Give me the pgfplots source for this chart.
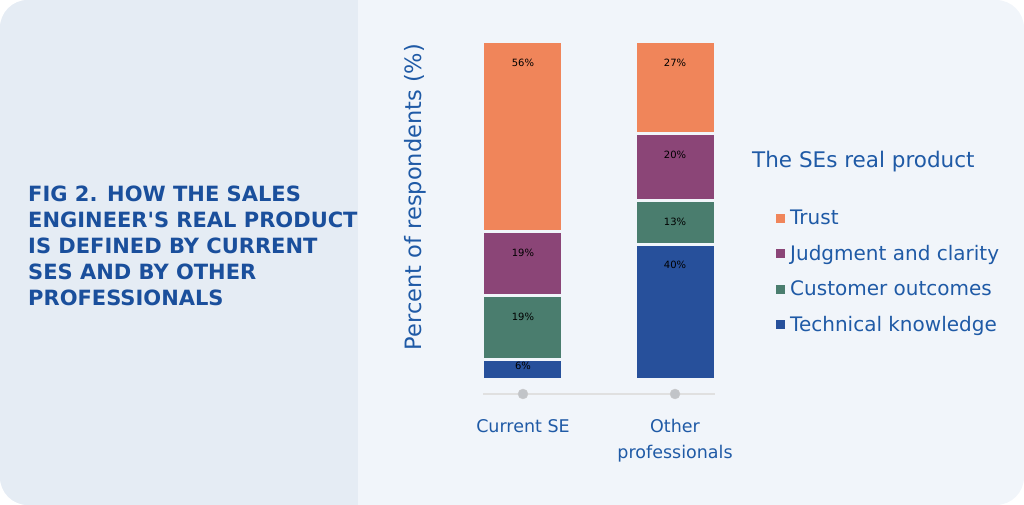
\documentclass[border=0pt]{standalone}
\usepackage{pgfplots}
\pgfplotsset{compat=1.18}
\usepackage{fontspec}
\setmainfont{DejaVu Sans}
\definecolor{bgL}{HTML}{E5ECF4}
\definecolor{bgR}{HTML}{F1F5FA}
\definecolor{cTrust}{HTML}{F0855A}
\definecolor{cJudg}{HTML}{8B4577}
\definecolor{cCust}{HTML}{4A7D6E}
\definecolor{cTech}{HTML}{27509B}
\definecolor{txt}{HTML}{1F5AA6}
\definecolor{ttl}{HTML}{1A4F9C}
\begin{document}
\begin{tikzpicture}[x=1pt,y=1pt]
\begin{scope}
\clip[rounded corners=28pt] (0,0) rectangle (1024,505);
\fill[bgR] (0,0) rectangle (1024,505);
\fill[bgL] (0,0) rectangle (358,505);
\end{scope}
\node[anchor=north west,align=left,text=ttl,font=\fontsize{21}{26}\selectfont\bfseries,inner sep=0pt] at (28,319)
{FIG 2. HOW THE SALES\\ENGINEER\textquotesingle S REAL PRODUCT\\IS DEFINED BY CURRENT\\SES AND BY OTHER\\PROFESSIONALS};
\begin{axis}[at={(483pt,125pt)},anchor=south west,scale only axis,width=232pt,height=338pt,
 xmin=-0.263,xmax=1.263,ymin=0,ymax=100,axis lines=none,clip=false,
 ybar stacked,bar width=80pt,
 legend reversed,
 legend style={at={(1.237,0.515)},anchor=north west,draw=none,fill=none,text=txt,
   font=\fontsize{20}{24}\selectfont,row sep=15pt,
   legend cell align=left},
 legend image code/.code={\fill[#1] (0pt,-6pt) rectangle (12pt,6pt);},
]
\addplot[fill=cTech,draw=bgR,line width=3pt] coordinates {(0,6) (1,40)};
\addplot[fill=cCust,draw=bgR,line width=3pt] coordinates {(0,19) (1,13)};
\addplot[fill=cJudg,draw=bgR,line width=3pt] coordinates {(0,19) (1,20)};
\addplot[fill=cTrust,draw=bgR,line width=3pt] coordinates {(0,56) (1,27)};
\legend{Technical knowledge,Customer outcomes,Judgment and clarity,Trust}
\end{axis}
\begin{axis}[at={(483pt,125pt)},anchor=south west,scale only axis,width=232pt,height=338pt,
 xmin=-0.263,xmax=1.263,ymin=0,ymax=100,axis lines=none,clip=false,
 every node/.append style={text=white,font=\fontsize{22}{24}\selectfont\bfseries}]
\addplot[color=black!12,line width=1.2pt] coordinates {(-0.263,-4.14) (1.263,-4.14)};
\addplot[only marks,mark=*,mark size=5pt,color=black!20,mark options={fill=black!20!bgR}] coordinates {(0,-4.14) (1,-4.14)};
\node at (axis cs:0,93.8) {56\%};
\node at (axis cs:0,37.5) {19\%};
\node at (axis cs:0,18.7) {19\%};
\node at (axis cs:0,4.1) {6\%};
\node at (axis cs:1,93.8) {27\%};
\node at (axis cs:1,66.7) {20\%};
\node at (axis cs:1,46.7) {13\%};
\node at (axis cs:1,34) {40\%};
\node[text=txt,font=\fontsize{17.5}{26}\selectfont,align=center,anchor=north] at (axis cs:0,-10.5) {Current SE};
\node[text=txt,font=\fontsize{17.5}{26}\selectfont,align=center,anchor=north] at (axis cs:1,-10.5) {Other\\professionals};
\end{axis}
\node[text=txt,font=\fontsize{22.5}{24}\selectfont,rotate=90] at (415,308) {Percent of respondents (\%)};
\node[text=txt,font=\fontsize{21.5}{24}\selectfont,anchor=west,inner sep=0pt] at (752,343) {The SEs real product};
\end{tikzpicture}
\end{document}
